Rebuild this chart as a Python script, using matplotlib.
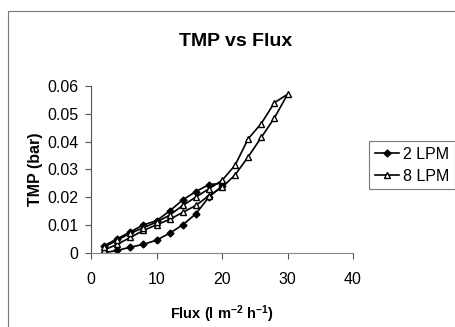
import matplotlib.pyplot as plt
from matplotlib.patches import Rectangle

plt.rcParams['font.family'] = ['Liberation Sans', 'DejaVu Sans']
plt.rcParams['mathtext.fontset'] = 'custom'
plt.rcParams['mathtext.rm'] = 'Liberation Sans:bold'
plt.rcParams['mathtext.bf'] = 'Liberation Sans:bold'
plt.rcParams['mathtext.default'] = 'bf'

# 2 LPM: increasing flux then decreasing flux
flux_2_up = [2, 4, 6, 8, 10, 12, 14, 16, 18, 20]
tmp_2_up = [0.0, 0.0008, 0.002, 0.003, 0.0045, 0.007, 0.010, 0.014, 0.020, 0.024]
flux_2_down = [20, 18, 16, 14, 12, 10, 8, 6, 4, 2]
tmp_2_down = [0.025, 0.0245, 0.022, 0.019, 0.015, 0.0115, 0.010, 0.0075, 0.005, 0.0025]

# 8 LPM
flux_8_up = [2, 4, 6, 8, 10, 12, 14, 16, 18, 20, 22, 24, 26, 28, 30]
tmp_8_up = [0.001, 0.003, 0.0055, 0.008, 0.010, 0.012, 0.0145, 0.017, 0.0205,
            0.0235, 0.028, 0.0345, 0.0415, 0.0485, 0.057]
flux_8_down = [28, 26, 24, 22, 20, 18, 16, 14, 12, 10, 8, 6, 4, 2]
tmp_8_down = [0.054, 0.0465, 0.041, 0.0315, 0.026, 0.023, 0.020, 0.017,
              0.0135, 0.011, 0.009, 0.007, 0.0045, 0.002]

fig = plt.figure(figsize=(4.56, 3.27), dpi=100)
fig.patches.append(Rectangle((8 / 456, -0.05), 1.1, 1 - 11 / 327 + 0.05,
                             transform=fig.transFigure, fill=False,
                             edgecolor='#777777', linewidth=0.8))
ax = fig.add_axes([91 / 456, 1 - 252.7 / 327, 262 / 456, 166.7 / 327])

x2 = flux_2_up + flux_2_down
y2 = tmp_2_up + tmp_2_down
x8 = flux_8_up + flux_8_down
y8 = tmp_8_up + tmp_8_down

ax.plot(x2, y2, color='black', lw=1.2, marker='D', ms=3.5,
        mfc='black', mec='black', label='2 LPM')
ax.plot(x8, y8, color='black', lw=1.2, marker='^', ms=5,
        mfc='white', mec='black', mew=1, label='8 LPM')

ax.set_xlim(0, 40)
ax.set_ylim(0, 0.06)
ax.set_xticks([0, 10, 20, 30, 40])
ax.set_yticks([0, 0.01, 0.02, 0.03, 0.04, 0.05, 0.06])
ax.set_yticklabels(['0', '0.01', '0.02', '0.03', '0.04', '0.05', '0.06'])

for side in ['top', 'right']:
    ax.spines[side].set_visible(False)
ax.spines['left'].set_color('#555555')
ax.spines['bottom'].set_color('#888888')
ax.tick_params(axis='both', labelsize=11.5, length=4, width=0.8,
               color='#555555')
ax.tick_params(axis='y', pad=5)
ax.tick_params(axis='x', pad=10)

# chart title is centred on the chart area, not the plot area
fig.text(236 / 456, 1 - 41 / 327, 'TMP vs Flux', fontsize=14,
         fontweight='bold', ha='center', va='center')
ax.set_xlabel('Flux (l m$^{-2}$ h$^{-1}$)', fontsize=10.5, fontweight='bold',
              labelpad=12)
ax.set_ylabel('TMP (bar)', fontsize=11.5, fontweight='bold', labelpad=3)

leg = fig.legend(loc='upper left', bbox_to_anchor=(369 / 456, 1 - 141 / 327),
                 fontsize=11.5, frameon=True, fancybox=False, handlelength=1.5,
                 handletextpad=0.25, borderpad=0.35, labelspacing=0.45,
                 borderaxespad=0)
leg.get_frame().set_edgecolor('#555555')
leg.get_frame().set_linewidth(0.8)

fig.savefig('out.png', dpi=100)
